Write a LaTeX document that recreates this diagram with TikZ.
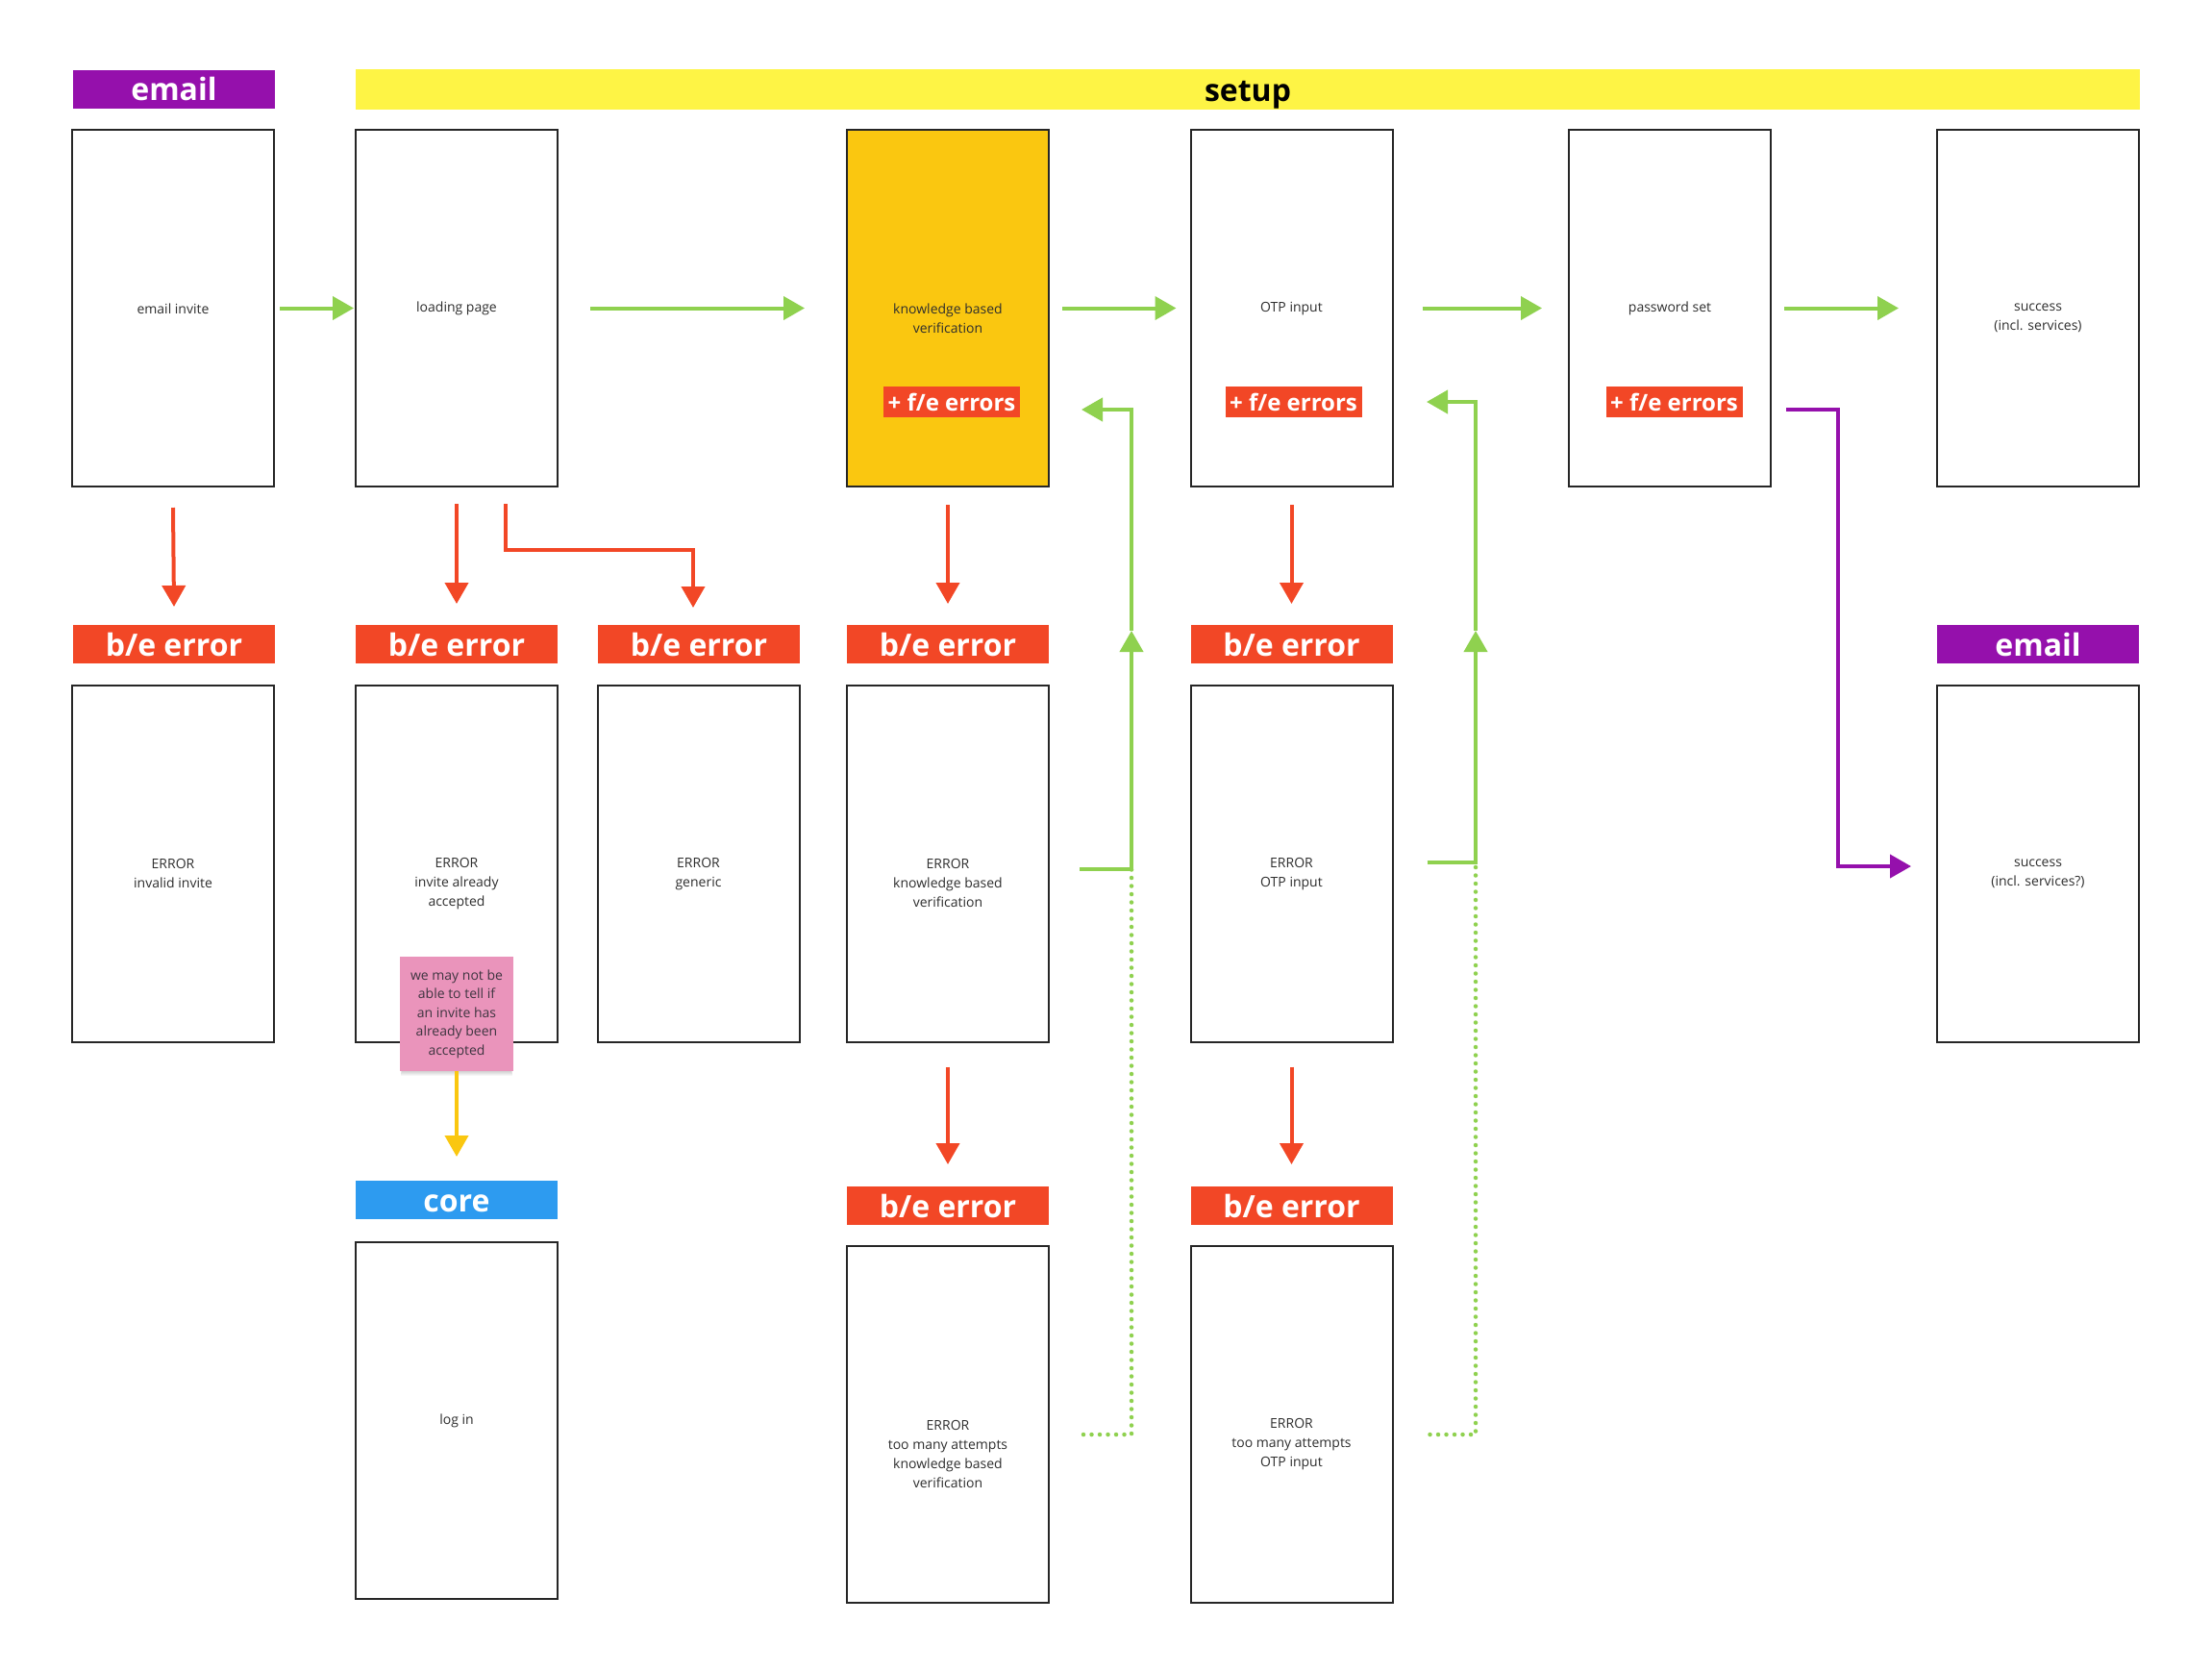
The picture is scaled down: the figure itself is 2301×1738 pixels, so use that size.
\documentclass[tikz,border=0pt]{standalone}
\usepackage{fontspec}
\setmainfont{Open Sans}
\usetikzlibrary{arrows.meta}

\definecolor{mpurple}{HTML}{9510AC}
\definecolor{myellow}{HTML}{FEF445}
\definecolor{morange}{HTML}{FAC710}
\definecolor{mred}{HTML}{F24726}
\definecolor{mgreen}{HTML}{8FD14F}
\definecolor{mblue}{HTML}{2D9BF0}
\definecolor{mpink}{HTML}{EA94BB}
\definecolor{frame}{HTML}{262626}
\definecolor{ink}{HTML}{2E2E2E}
\definecolor{noteink}{HTML}{3E3540}

\tikzset{
  screen/.style={draw=frame, line width=2pt, fill=white, minimum width=210pt,
    minimum height=371pt, inner sep=0pt, outer sep=0pt},
  boxtext/.style={anchor=base, align=center, inner sep=0pt,
    font=\fontsize{14}{20}\selectfont, text=ink},
  % #1 = number of text lines, #2 = text; first line sits at the screen's middle
  shot/.style n args={2}{screen,
    label={[boxtext, yshift=-0.6pt-10pt*(#1-1)]center:{#2}}},
  tag/.style={fill=#1, minimum width=210pt, minimum height=40pt, inner sep=0pt,
    outer sep=0pt, text=white, text height=24pt, text depth=0pt,
    font=\fontsize{32}{36}\bfseries\selectfont},
  fetag/.style={fill=mred, minimum width=142pt, minimum height=32pt, inner sep=0pt,
    outer sep=0pt, text=white, text height=18pt, text depth=0pt,
    font=\fontsize{24}{28}\bfseries\selectfont},
  sticky/.style={fill=mpink, minimum width=118pt, minimum height=119pt, inner sep=0pt,
    align=center, font=\fontsize{14}{19.5}\selectfont, text=noteink},
  tip/.style={-{Triangle[length=22pt,width=24pt]}},
  garrow/.style={draw=mgreen, line width=4pt, tip},
  rarrow/.style={draw=mred, line width=4pt, tip},
  yarrow/.style={draw=morange, line width=4pt, tip},
  parrow/.style={draw=mpurple, line width=4pt, tip},
  gdots/.style={draw=mgreen, line width=4.5pt, line cap=round, dash pattern=on 0pt off 8.5pt},
}

\begin{document}
\begin{tikzpicture}[x=1pt, y=-1pt]
\useasboundingbox[fill=white] (0,0) rectangle (2301,1738);

% section headers
\node[tag=mpurple] (hEmail) at (181,92.5) {email};
\node[tag=myellow, text=black, minimum width=1856pt, minimum height=42pt] (hSetup) at (1298,93) {setup};

% main flow screens
\node[shot={1}{email invite}] (ei) at (180,320.5) {};
\node[shot={1}{loading page}] (lp) at (475,320.5) {};
\node[shot={2}{knowledge based\\verification}, fill=morange] (kbv) at (986,320.5) {};
\node[shot={1}{OTP input}] (otp) at (1343.5,320.5) {};
\node[shot={1}{password set}] (pw) at (1737,320.5) {};
\node[shot={2}{success\\(incl. services)}] (ok) at (2120,320.5) {};

% front-end error badges
\node[fetag] (fe1) at (990,418) {+ f/e errors};
\node[fetag] (fe2) at (1345.5,418) {+ f/e errors};
\node[fetag] (fe3) at (1741.5,418) {+ f/e errors};

% back-end error headers
\node[tag=mred] (be1) at (181,670) {b/e error};
\node[tag=mred] (be2) at (475,670) {b/e error};
\node[tag=mred] (be3) at (727,670) {b/e error};
\node[tag=mred] (be4) at (986,670) {b/e error};
\node[tag=mred] (be5) at (1343.5,670) {b/e error};
\node[tag=mpurple] (hEmail2) at (2120,670) {email};

% error screens
\node[shot={2}{ERROR\\invalid invite}] (err1) at (180,898) {};
\node[shot={3}{ERROR\\invite already\\accepted}] (err2) at (475,898) {};
\node[shot={2}{ERROR\\generic}] (err3) at (726.5,898) {};
\node[shot={3}{ERROR\\knowledge based\\verification}] (err4) at (986,898) {};
\node[shot={2}{ERROR\\OTP input}] (err5) at (1343.5,898) {};
\node[shot={2}{success\\(incl. services?)}] (ok2) at (2120,898) {};

% sticky note with its shadow
\foreach \k in {1,...,6}
  \fill[black, opacity=0.035] (419-\k*0.4,1085) rectangle (531+\k*0.4,1113+\k);
\node[sticky] (note) at (475,1054.5) {we may not be\\able to tell if\\an invite has\\already been\\accepted};

% core
\node[tag=mblue] (hCore) at (475,1248) {core};
\node[shot={1}{log in}] (login) at (475,1477) {};

% lockout screens
\node[tag=mred] (be6) at (986,1254) {b/e error};
\node[tag=mred] (be7) at (1343.5,1254) {b/e error};
\node[shot={4}{ERROR\\too many attempts\\knowledge based\\verification}] (tm1) at (986,1481.5) {};
\node[shot={3}{ERROR\\too many attempts\\OTP input}] (tm2) at (1343.5,1481.5) {};

% happy path
\draw[garrow] ([xshift=6pt]ei.east) -- ([xshift=-2pt]lp.west);
\draw[garrow] ([xshift=34pt]lp.east) -- ([xshift=-44pt]kbv.west);
\draw[garrow] ([xshift=14pt]kbv.east) -- ([xshift=-15pt]otp.west);
\draw[garrow] ([xshift=31pt]otp.east) -- ([xshift=-28pt]pw.west);
\draw[garrow] ([xshift=14pt]pw.east) -- ([xshift=-40pt]ok.west);

% back-end failures
\draw[rarrow] ([yshift=-22pt]ei.south) -- ([yshift=19pt]be1.north);
\draw[rarrow] ([yshift=-18pt]lp.south) -- ([yshift=22pt]be2.north);
\draw[rarrow] ([xshift=51pt,yshift=-18pt]lp.south) -- ++(0,48) -| ([xshift=-6pt,yshift=18pt]be3.north);
\draw[rarrow] ([yshift=-19pt]kbv.south) -- ([yshift=22pt]be4.north);
\draw[rarrow] ([yshift=-19pt]otp.south) -- ([yshift=22pt]be5.north);
\draw[rarrow] ([yshift=-26pt]err4.south) -- ([yshift=23pt]be6.north);
\draw[rarrow] ([yshift=-26pt]err5.south) -- ([yshift=23pt]be7.north);

% note leads to core
\draw[yarrow] (note.south) -- ([yshift=25pt]hCore.north);

% retry loops
\coordinate (ja) at (1177,904);
\coordinate (ma) at (1177,656);
\coordinate (ka) at (1177,426);
\coordinate (ta) at (1125,426);
\coordinate (da) at (1177,1492);
\draw[garrow] ([xshift=32pt,yshift=-6pt]err4.east) -- (ja) -- (ma);
\draw[garrow] (ma) -- (ka) -- (ta);
\draw[gdots] ([xshift=36pt,yshift=-10.5pt]tm1.east) -- (da) -- (ja);

\coordinate (jb) at (1535,897);
\coordinate (mb) at (1535,656);
\coordinate (kb) at (1535,418);
\coordinate (tb) at (1484,418);
\coordinate (db) at (1535,1492);
\draw[garrow] ([xshift=36pt,yshift=1pt]err5.east) -- (jb) -- (mb);
\draw[garrow] (mb) -- (kb) -- (tb);
\draw[gdots] ([xshift=39pt,yshift=-10.5pt]tm2.east) -- (db) -- (jb);

% confirmation email
\draw[parrow] ([xshift=16pt,yshift=-105.5pt]pw.east) -- (1912,426) -- (1912,901) -- ([xshift=-27pt,yshift=-3pt]ok2.west);
\end{tikzpicture}
\end{document}
